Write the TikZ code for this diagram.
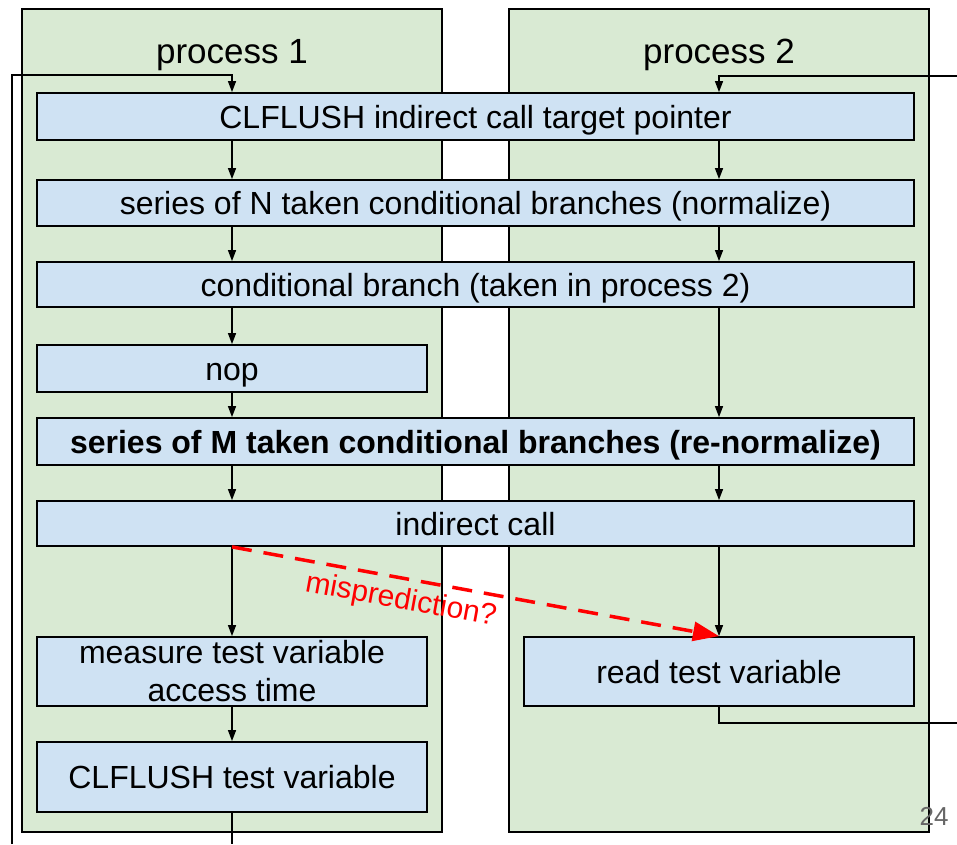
\documentclass[tikz,border=0pt]{standalone}
\usepackage{fontspec}
\setmainfont{Liberation Sans}
\usetikzlibrary{arrows.meta}

\definecolor{panelgreen}{HTML}{D9EAD3}
\definecolor{stepblue}{HTML}{CFE2F3}
\definecolor{pagegray}{HTML}{666666}

\tikzset{
  panel/.style={draw=black, line width=1.4pt, fill=panelgreen},
  stepbase/.style={draw=black, line width=1.8pt, fill=stepblue, inner sep=0pt,
    font=\fontsize{32}{38}\selectfont, align=center},
  stepbox/.style={stepbase, text height=25pt, text depth=2pt},
  flow/.style={draw=black, line width=1.3pt, -{Triangle[length=11pt,width=8pt]}},
  wire/.style={draw=black, line width=1.3pt},
  title/.style={font=\fontsize{35}{40}\selectfont, anchor=base},
}

\begin{document}
\begin{tikzpicture}[x=1pt, y=-1pt]
\useasboundingbox (0,0) rectangle (957,844);

% the two process columns
\draw[panel] (22,9) rectangle (442,832);
\draw[panel] (509,9) rectangle (929,832);
\node[title] (t1) at (232,63) {process 1};
\node[title] (t2) at (719,63) {process 2};

% column axes for the vertical flow
\coordinate (lc) at (232,0);
\coordinate (rc) at (719,0);

% steps
\node[stepbox, minimum width=877pt, minimum height=47pt] (b1) at (475.5,116.5) {CLFLUSH indirect call target pointer};
\node[stepbox, minimum width=877pt, minimum height=46pt] (b2) at (475.5,203) {series of N taken conditional branches (normalize)};
\node[stepbox, minimum width=877pt, minimum height=45pt] (b3) at (475.5,284.5) {conditional branch (taken in process 2)};
\node[stepbox, minimum width=390pt, minimum height=47pt] (nop) at (232,368.5) {nop};
\node[stepbox, minimum width=877pt, minimum height=47pt, font=\fontsize{32}{38}\selectfont\bfseries] (b5) at (475.5,441.5) {series of M taken conditional branches (re-normalize)};
\node[stepbox, minimum width=877pt, minimum height=45pt] (b6) at (475.5,523.5) {indirect call};
\node[stepbase, minimum width=390pt, minimum height=69pt] (meas) at (232,671.5) {measure test variable\\access time};
\node[stepbox, minimum width=390pt, minimum height=69pt] (read) at (719,671.5) {read test variable};
\node[stepbox, minimum width=390pt, minimum height=70pt] (clt) at (232,777) {CLFLUSH test variable};

% process 1 flow
\draw[flow] (b1.south -| lc) -- (b2.north -| lc);
\draw[flow] (b2.south -| lc) -- (b3.north -| lc);
\draw[flow] (b3.south -| lc) -- (nop.north);
\draw[flow] (nop.south) -- (b5.north -| lc);
\draw[flow] (b5.south -| lc) -- (b6.north -| lc);
\draw[flow] (b6.south -| lc) -- (meas.north);
\draw[flow] (meas.south) -- (clt.north);

% process 2 flow
\draw[flow] (b1.south -| rc) -- (b2.north -| rc);
\draw[flow] (b2.south -| rc) -- (b3.north -| rc);
\draw[flow] (b3.south -| rc) -- (b5.north -| rc);
\draw[flow] (b5.south -| rc) -- (b6.north -| rc);
\draw[flow] (b6.south -| rc) -- (read.north);

% loops back to the start
\coordinate (lbot) at (12,844);
\coordinate (ltop) at (12,75);
\coordinate (rtop) at (957,76);
\coordinate (rret) at (957,723);
\coordinate (cltend) at (232,844);
\draw[wire] (clt.south) -- (cltend);
\draw[flow] (lbot) -- (ltop) -| (b1.north -| lc);
\draw[flow] (rtop) -| (b1.north -| rc);
\draw[wire] (read.south) |- (rret);

% speculative path
\draw[red, line width=3.5pt, dash pattern=on 20pt off 12pt,
      -{Triangle[length=26pt,width=19pt]}]
  (b6.south -| lc) -- (read.north)
  node[pos=0.355, sloped, below=7pt, inner sep=0pt, text=red,
       font=\fontsize{30}{34}\selectfont] (mp) {misprediction?};

% page number
\node[text=pagegray, font=\fontsize{26}{30}\selectfont] (pg) at (934,816) {24};
\end{tikzpicture}
\end{document}
